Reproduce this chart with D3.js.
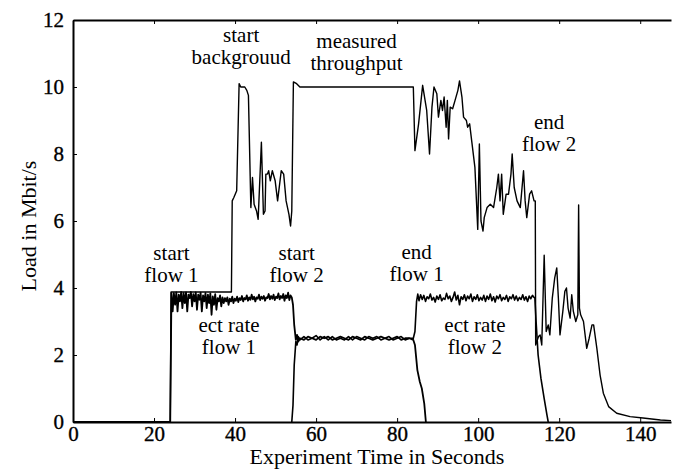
<!DOCTYPE html>
<html>
<head>
<meta charset="utf-8">
<script src="https://cdn.jsdelivr.net/npm/d3@7"></script>
<style>
  body { margin: 0; background: #fff; }
  svg text { font-family: "Liberation Serif", "Times New Roman", serif; fill: #000; }
  .axis path, .axis line { stroke: #000; }
  .axis text { stroke: #000; stroke-width: 0.35px; }
</style>
</head>
<body>
<div id="chart"></div>
<script>
// measured total throughput [seconds, Mbit/s]
var total = [
  [0,0],[24.0,0],[24.2,3.88],[39.1,3.88],[39.3,6.6],[39.7,6.7],[40.4,6.9],[41.0,10.1],[41.4,10.0],
  [42.4,10.0],[42.9,9.9],[43.3,9.75],[43.9,6.4],[44.3,7.3],[44.7,6.5],[45.3,6.3],[45.7,6.05],
  [46.1,7.2],[46.5,8.35],[47.0,6.2],[47.4,6.3],[47.6,7.4],[48.0,7.4],[48.3,7.5],[48.7,7.2],
  [49.2,7.5],[49.9,7.2],[50.5,6.6],[51.0,7.1],[51.4,7.5],[52.0,7.4],[52.6,6.6],[53.3,6.2],
  [53.7,5.85],[54.0,6.3],[54.4,10.15],[55.2,10.1],[56,10.0],[84,10.0],[84.4,8.1],[85.3,8.9],
  [86.3,10.05],[87.3,9.3],[88.0,8.0],[88.6,9.4],[89.1,10.0],[89.8,9.8],[90.2,9.1],[90.8,9.6],
  [91.2,9.3],[91.6,9.7],[92.1,8.8],[92.4,9.6],[92.7,8.45],[93.1,9.4],[93.7,9.35],[94.3,9.6],
  [95.0,9.9],[95.4,10.18],[96.0,9.7],[96.4,9.1],[97.1,9.0],[97.4,8.8],[97.9,8.9],[98.4,8.4],
  [99.2,7.6],[99.9,5.75],[100.3,8.3],[100.7,6.0],[101.2,5.7],[101.5,6.1],[102.2,6.4],[103.0,6.5],
  [103.8,6.4],[104.6,7.0],[105.0,7.4],[105.4,6.6],[105.8,7.4],[106.2,6.2],[106.9,6.8],[107.5,6.8],
  [108.1,7.4],[108.4,8.0],[108.9,7.0],[109.6,6.6],[110.4,6.4],[111.2,7.5],[111.6,6.6],[112.0,6.1],
  [112.7,6.8],[113.2,6.9],[113.8,6.6],[114.1,6.6],[114.2,2.3],[114.9,2.55],[115.3,2.6],[115.7,2.3],
  [116.3,4.98],[116.8,2.7],[117.3,2.9],[117.7,2.6],[118.3,3.7],[118.9,4.3],[119.4,4.6],[119.8,3.7],
  [120.2,2.6],[120.9,3.3],[121.4,3.9],[121.8,4.0],[122.2,3.4],[122.7,3.1],[123.1,3.8],[123.5,3.3],
  [124.1,3.0],[124.6,3.2],[124.8,6.48],[125.0,3.4],[125.3,3.2],[126.0,3.0],[126.8,2.2],[127.4,2.5],
  [128.1,2.9],[128.5,2.9],[129.3,2.2],[130.1,1.4],[130.9,0.86],[132.2,0.46],[134.2,0.26],
  [137.5,0.16],[140.7,0.12],[145,0.06],[147.6,0.04]
];

// rate of flow 1
var flow1 = [
  [0,0],[24.0,0],[24.3,3.85],[24.6,3.3],[24.9,3.85],[25.2,3.5],[25.5,3.87],[25.8,3.3],[26.1,3.8],
  [26.4,3.6],[26.7,3.88],[27.0,3.4],[27.3,3.85],[27.6,3.55],[27.9,3.87],[28.2,3.3],[28.5,3.8],
  [28.8,3.7],[29.1,3.88],[29.4,3.45],[29.7,3.82],[30.0,3.6],[30.3,3.87],[30.6,3.35],[30.9,3.8],
  [31.2,3.65],[31.5,3.86],[31.8,3.3],[32.1,3.78],[32.4,3.6],[32.7,3.85],[33.0,3.4],[33.3,3.8],
  [33.6,3.55],[33.9,3.84],[34.2,3.2],[34.5,3.75],[34.8,3.5],[35.1,3.82],[35.4,3.35],[35.7,3.7],
  [36.0,3.6],[36.3,3.78],[36.6,3.45],[36.9,3.72],[37.2,3.55],[37.5,3.7],[37.8,3.6],[38.1,3.72],
  [38.4,3.5],[38.7,3.68],[39.0,3.6],[39.3,3.74],[39.6,3.55],[39.9,3.68],[40.2,3.62],[40.5,3.74],
  [40.8,3.58],[41.1,3.7],[41.4,3.64],[41.7,3.76],[42.0,3.6],[42.3,3.7],[42.6,3.66],[42.9,3.78],
  [43.2,3.62],[43.5,3.72],[43.8,3.65],[44.1,3.8],[44.4,3.66],[44.7,3.74],[45.0,3.6],[45.3,3.72],
  [45.6,3.68],[45.9,3.8],[46.2,3.64],[46.5,3.74],[46.8,3.68],[47.1,3.76],[47.4,3.62],[47.7,3.72],
  [48.0,3.7],[48.3,3.82],[48.6,3.66],[48.9,3.76],[49.2,3.68],[49.5,3.8],[49.8,3.64],[50.1,3.74],
  [50.4,3.7],[50.7,3.84],[51.0,3.66],[51.3,3.76],[51.6,3.7],[51.9,3.82],[52.2,3.62],[52.5,3.78],
  [52.8,3.7],[53.1,3.86],[53.4,3.64],[53.7,3.78],[54.0,3.72],[54.3,3.5],[54.6,2.9],[55.0,2.45],
  [55.3,2.6],[55.6,2.4],[56,2.5],[57,2.45],[58,2.55],[59,2.5],[60,2.45],[61,2.55],[62,2.5],
  [63,2.55],[64,2.45],[65,2.5],[66,2.55],[67,2.5],[68,2.45],[69,2.55],[70,2.5],[71,2.45],
  [72,2.55],[73,2.5],[74,2.45],[75,2.5],[76,2.55],[77,2.5],[78,2.45],[79,2.5],[80,2.55],
  [81,2.45],[82,2.5],[83,2.5],[84,2.45],[84.4,2.3],[85.0,1.55],[85.6,1.2],[86.1,1.0],
  [86.7,0.55],[87.1,0]
];

// rate of flow 2
var flow2 = [
  [54.0,0],[54.3,0.5],[54.6,1.7],[55.0,2.4],[55.3,2.3],[55.6,2.55],[56,2.45],[57,2.55],[58,2.45],
  [59,2.5],[60,2.58],[61,2.45],[62,2.55],[63,2.45],[64,2.55],[65,2.45],[66,2.5],[67,2.45],
  [68,2.55],[69,2.45],[70,2.55],[71,2.5],[72,2.45],[73,2.55],[74,2.5],[75,2.55],[76,2.45],
  [77,2.5],[78,2.55],[79,2.45],[80,2.5],[81,2.55],[82,2.45],[83,2.5],[84,2.5],[84.4,2.7],
  [84.8,3.6],[85.1,3.82],[85.4,3.62],[85.8,3.8],[86.2,3.66],[86.6,3.78],[87.0,3.6],[87.4,3.74],
  [87.8,3.68],[88.2,3.82],[88.6,3.64],[89.0,3.72],[89.4,3.58],[89.8,3.76],[90.2,3.66],[90.6,3.8],
  [91.0,3.62],[91.4,3.7],[91.8,3.66],[92.2,3.84],[92.6,3.68],[93.0,3.76],[93.4,3.6],[93.8,3.72],
  [94.2,3.88],[94.6,3.64],[95.0,3.78],[95.4,3.5],[95.8,3.74],[96.2,3.66],[96.6,3.8],[97.0,3.62],
  [97.4,3.76],[97.8,3.68],[98.2,3.82],[98.6,3.6],[99.0,3.74],[99.4,3.66],[99.8,3.8],[100.2,3.62],
  [100.6,3.72],[101.0,3.64],[101.4,3.78],[101.8,3.6],[102.2,3.76],[102.6,3.66],[103.0,3.82],
  [103.4,3.62],[103.8,3.74],[104.2,3.58],[104.6,3.76],[105.0,3.68],[105.4,3.8],[105.8,3.62],
  [106.2,3.72],[106.6,3.66],[107.0,3.78],[107.4,3.6],[107.8,3.74],[108.2,3.68],[108.6,3.8],
  [109.0,3.64],[109.4,3.76],[109.8,3.62],[110.2,3.72],[110.6,3.66],[111.0,3.8],[111.4,3.64],
  [111.8,3.74],[112.2,3.6],[112.6,3.76],[113.0,3.68],[113.4,3.78],[113.8,3.72],[114.0,3.7],
  [114.3,3.0],[114.8,2.0],[115.5,1.3],[116.3,0.7],[117.0,0.2],[117.3,0]
];

var xTicks = [0, 20, 40, 60, 80, 100, 120, 140];
var yTicks = [0, 2, 4, 6, 8, 10, 12];

// annotation text: [x position in seconds, y in Mbit/s, line 1, line 2]
var notes = [
  [41.5, 11.35, "start", "backgrouud"],
  [70.0, 11.15, "measured", "throughput"],
  [117.5, 8.75, "end", "flow 2"],
  [24.3, 4.85, "start", "flow 1"],
  [55.2, 4.85, "start", "flow 2"],
  [84.8, 4.88, "end", "flow 1"],
  [38.5, 2.68, "ect rate", "flow 1"],
  [99.2, 2.7, "ect rate", "flow 2"]
];

var W = 673, H = 470;
var margin = {top: 20, right: 2, bottom: 48, left: 73},
    width = W - margin.left - margin.right,
    height = H - margin.top - margin.bottom;

var x = d3.scaleLinear().domain([0, 147.6]).range([0, width]);
var y = d3.scaleLinear().domain([0, 12]).range([height, 0]);

var svg = d3.select("#chart").append("svg")
    .attr("width", W)
    .attr("height", H);

var g = svg.append("g")
    .attr("transform", "translate(" + margin.left + "," + margin.top + ")");

var line = d3.line()
    .x(function(d) { return x(d[0]); })
    .y(function(d) { return y(d[1]); });

// axes, ticks point inward
g.append("g")
    .attr("class", "axis")
    .attr("transform", "translate(0," + height + ")")
    .call(d3.axisBottom(x).tickValues(xTicks).tickSize(-4).tickPadding(4).tickSizeOuter(0))
    .call(function(s) { s.select(".domain").attr("stroke-width", 2); })
    .selectAll("text").attr("font-size", 21);

g.append("g")
    .attr("class", "axis")
    .call(d3.axisTop(x).tickValues(xTicks).tickSize(-4).tickSizeOuter(0).tickFormat(""))
    .call(function(s) { s.select(".domain").attr("stroke-width", 2); });

g.append("g")
    .attr("class", "axis")
    .call(d3.axisLeft(y).tickValues(yTicks).tickSize(-4).tickPadding(9).tickSizeOuter(0))
    .call(function(s) { s.select(".domain").attr("stroke-width", 2); })
    .selectAll("text").attr("font-size", 21);

// series
g.append("path").datum(flow1)
    .attr("fill", "none").attr("stroke", "#000").attr("stroke-width", 1.8)
    .attr("stroke-linejoin", "round")
    .attr("d", line);

g.append("path").datum(flow2)
    .attr("fill", "none").attr("stroke", "#000").attr("stroke-width", 1.6)
    .attr("stroke-linejoin", "round")
    .attr("d", line);

g.append("path").datum(total)
    .attr("fill", "none").attr("stroke", "#000").attr("stroke-width", 1.4)
    .attr("stroke-linejoin", "round")
    .attr("d", line);

// annotations
var note = g.selectAll(".note")
    .data(notes)
    .enter().append("text")
      .attr("class", "note")
      .attr("text-anchor", "middle")
      .attr("font-size", 21)
      .attr("transform", function(d) { return "translate(" + x(d[0]) + "," + y(d[1]) + ")"; });

note.append("tspan").attr("x", 0).attr("y", 0).text(function(d) { return d[2]; });
note.append("tspan").attr("x", 0).attr("y", 22).text(function(d) { return d[3]; });

// axis titles
svg.append("text")
    .attr("x", 377)
    .attr("y", 464)
    .attr("text-anchor", "middle")
    .attr("font-size", 22)
    .text("Experiment Time in Seconds");

svg.append("text")
    .attr("transform", "translate(36,226) rotate(-90)")
    .attr("text-anchor", "middle")
    .attr("font-size", 22)
    .text("Load in Mbit/s");
</script>
</body>
</html>
